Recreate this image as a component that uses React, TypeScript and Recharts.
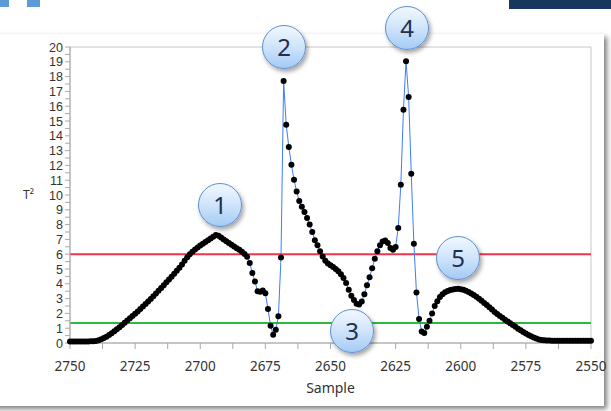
import { LineChart, Line, XAxis, YAxis, ReferenceLine, ReferenceArea } from "recharts"

// T² per sample (samples run downward from each start)
const riseStart = 2750
const riseValues = [
  0.1, 0.1, 0.1, 0.1, 0.1, 0.1, 0.1, 0.1, 0.11, 0.12,
  0.14, 0.19, 0.26, 0.34, 0.43, 0.54, 0.66, 0.79, 0.93, 1.07,
  1.22, 1.37, 1.52, 1.67, 1.82, 1.97, 2.13, 2.29, 2.46, 2.63,
  2.8, 2.98, 3.16, 3.34, 3.53, 3.72, 3.91, 4.1, 4.29, 4.48,
  4.68, 4.88, 5.08, 5.3, 5.55, 5.8, 6.0, 6.16, 6.32, 6.46,
  6.58, 6.7, 6.82, 6.94, 7.06, 7.18, 7.3, 7.25, 7.13, 7.0,
  6.88, 6.76, 6.64, 6.52, 6.4, 6.3, 6.16, 6.02,
]

const spikeTwoStart = 2682
const spikeTwoValues = [
  5.82, 5.4, 4.73, 4.16, 3.5, 3.46, 3.55, 3.36, 2.3, 1.17,
  0.56, 0.9, 1.8, 5.78, 17.7, 14.75, 13.24, 12.05, 11.03, 10.24,
  9.6, 9.2, 8.85, 8.45, 8.0, 7.5, 6.95, 6.6, 6.2, 5.85,
]

const valleyStart = 2652
const valleyValues = [
  5.55, 5.38, 5.25, 5.14, 5.0, 4.85, 4.65, 4.4, 4.05, 3.6,
  3.2, 2.9, 2.65, 2.6, 2.8, 3.3, 3.9, 4.45, 5.05, 5.7,
  6.2, 6.6, 6.85, 6.93, 6.76, 6.42, 6.3, 6.49,
]

const spikeFourStart = 2624
const spikeFourValues = [
  7.77, 10.7, 15.76, 19.03, 16.62, 11.44, 6.71, 3.42, 1.62, 0.78,
  0.68, 1.1,
]

const bumpStart = 2612
const bumpValues = [
  1.5, 2.0, 2.5, 2.82, 3.1, 3.3, 3.43, 3.52, 3.58, 3.62,
  3.65, 3.66, 3.64, 3.6, 3.53, 3.45, 3.35, 3.24, 3.12, 2.99,
  2.85, 2.71, 2.57, 2.42, 2.26, 2.1, 1.96, 1.82, 1.7, 1.57,
  1.45, 1.33, 1.21, 1.09, 0.97, 0.86, 0.75, 0.64, 0.54, 0.45,
  0.37, 0.3, 0.24, 0.2, 0.18, 0.17, 0.17, 0.16, 0.16, 0.16,
  0.16, 0.16, 0.16, 0.16, 0.16, 0.16, 0.16, 0.16, 0.16, 0.16,
  0.16, 0.16, 0.16,
]

const upperLimit = 6
const lowerLimit = 1.35

const xTicks = [
  2750, 2737.5, 2725, 2712.5, 2700, 2687.5, 2675, 2662.5, 2650,
  2637.5, 2625, 2612.5, 2600, 2587.5, 2575, 2562.5, 2550,
]
const yTicks = Array.from({ length: 41 }, (_, k) => k * 0.5)

const segments: [number, number[]][] = [
  [riseStart, riseValues],
  [spikeTwoStart, spikeTwoValues],
  [valleyStart, valleyValues],
  [spikeFourStart, spikeFourValues],
  [bumpStart, bumpValues],
]

const data = segments.flatMap(([start, vals]) =>
  vals.map((v, k) => ({ sample: start - k, t2: v }))
)

const callouts = [
  { label: "1", cx: 220, cy: 205 },
  { label: "2", cx: 284, cy: 47 },
  { label: "3", cx: 352, cy: 331 },
  { label: "4", cx: 407, cy: 28 },
  { label: "5", cx: 458, cy: 258 },
]

const font = "'Noto Sans', 'Open Sans', sans-serif"

// only label whole numbers; half steps keep a bare tick line
function MajorTick(props: any) {
  const { x, y, payload, orientation } = props
  const v = payload.value as number
  if (orientation === "left") {
    if (!Number.isInteger(v)) return <g />
    return (
      <text x={x} y={y} dy={4.5} textAnchor="end" fill="#333" fontSize={12.5} fontFamily="'Liberation Sans', Arial, sans-serif">
        {v}
      </text>
    )
  }
  if (v % 25 !== 0) return <g />
  return (
    <text x={x} y={y} dy={10} textAnchor="middle" fill="#333" fontSize={13.5} fontFamily={font}>
      {v}
    </text>
  )
}

function Callout({ label, cx, cy }: { label: string; cx: number; cy: number }) {
  return (
    <div
      style={{
        position: "absolute",
        left: cx - 22,
        top: cy - 22,
        width: 44,
        height: 44,
        boxSizing: "border-box",
        borderRadius: "50%",
        border: "1.5px solid #5b8fd4",
        background: "linear-gradient(180deg, #f2f8ff 0%, #cfe4fb 50%, #a4cbf4 100%)",
        boxShadow: "2px 3px 4px rgba(0,0,0,0.35)",
        display: "flex",
        alignItems: "center",
        justifyContent: "center",
        fontFamily: font,
        fontSize: 24,
        color: "#1f2f4c",
        lineHeight: 1,
      }}
    >
      {label}
    </div>
  )
}

export default function App() {
  return (
    <div style={{ position: "absolute", left: 0, top: 0, width: 611, height: 411, background: "#fff", overflow: "hidden" }}>
      <div style={{ position: "absolute", left: 0, top: 0, width: 9, height: 7, background: "#5e9bd6" }} />
      <div style={{ position: "absolute", left: 27, top: 0, width: 13, height: 7, background: "#5e9bd6" }} />
      <div style={{ position: "absolute", left: 509, top: 0, width: 102, height: 9, background: "#17375f" }} />
      <div
        style={{
          position: "absolute",
          left: -10,
          top: 34,
          width: 614,
          height: 372,
          background: "#fff",
          boxShadow: "3px 3px 5px rgba(0,0,0,0.5)",
        }}
      />
      <div style={{ position: "absolute", left: 0, top: 0 }}>
        <LineChart width={611} height={411} data={data} margin={{ top: 47, right: 20, bottom: 16, left: 20 }}>
          <XAxis
            type="number"
            dataKey="sample"
            domain={[2550, 2750]}
            reversed
            ticks={xTicks}
            interval={0}
            height={52}
            tickSize={6}
            tickMargin={12}
            stroke="#a8a8a8"
            tick={<MajorTick />}
            label={{ value: "Sample", position: "insideBottom", offset: 2, fill: "#333", fontSize: 14, fontFamily: font }}
          />
          <YAxis
            type="number"
            domain={[0, 20]}
            ticks={yTicks}
            interval={0}
            width={50}
            tickSize={5}
            tickMargin={2}
            stroke="#a8a8a8"
            tick={<MajorTick />}
            label={{ value: "T²", position: "insideLeft", offset: 3, fill: "#333", fontSize: 12, fontFamily: font }}
          />
          <ReferenceArea x1={2550} x2={2750} y1={0} y2={20} fill="none" stroke="#c8c8c8" />
          <ReferenceLine y={upperLimit} stroke="#f0354d" strokeWidth={2} />
          <ReferenceLine y={lowerLimit} stroke="#2db83e" strokeWidth={2} />
          <Line
            type="linear"
            dataKey="t2"
            stroke="#3f7df5"
            strokeWidth={1}
            dot={{ r: 3, fill: "#000", stroke: "#000", strokeWidth: 0 }}
            activeDot={false}
            isAnimationActive={false}
          />
        </LineChart>
      </div>
      {callouts.map((c) => (
        <Callout key={c.label} {...c} />
      ))}
    </div>
  )
}
